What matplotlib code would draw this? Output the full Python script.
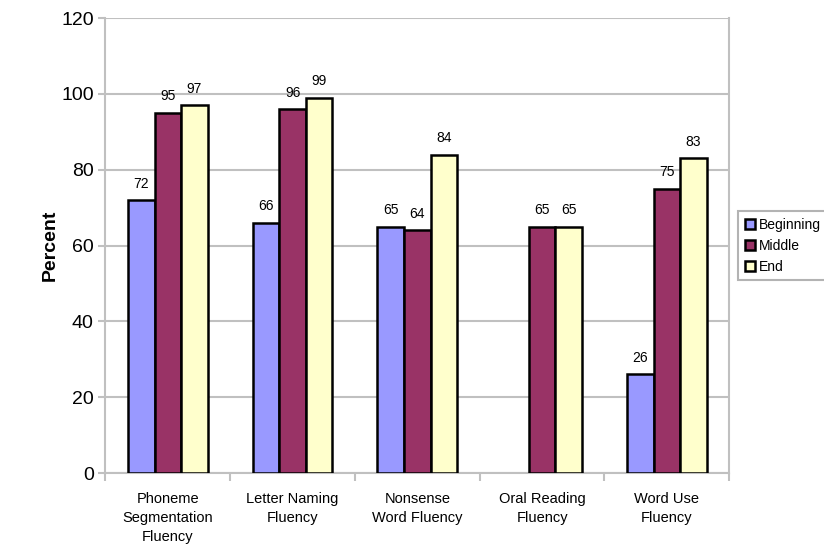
import matplotlib
matplotlib.use("Agg")
import matplotlib.pyplot as plt
import numpy as np

categories = ["Phoneme\nSegmentation\nFluency", "Letter Naming\nFluency", "Nonsense\nWord Fluency",
              "Oral Reading\nFluency", "Word Use\nFluency"]
beginning = [72, 66, 65, np.nan, 26]
middle = [95, 96, 64, 65, 75]
end = [97, 99, 84, 65, 83]
series = [("Beginning", beginning, "#9999FF"), ("Middle", middle, "#993366"), ("End", end, "#FFFFCC")]

plt.rcParams['font.family'] = ['Liberation Sans', 'DejaVu Sans']
fig = plt.figure(figsize=(8.24, 5.5), dpi=100)
ax = fig.add_axes([0.128, 0.14, 0.757, 0.827])

x = np.arange(len(categories))
w = 0.213
for i, (name, vals, col) in enumerate(series):
    pos = x + (i - 1) * w
    bars = ax.bar(pos, vals, w, color=col, edgecolor="black", linewidth=1.8, label=name, zorder=3)
    for p, v in zip(pos, vals):
        if not np.isnan(v):
            ax.text(p, v + 2.5, f"{int(v)}", ha="center", va="bottom", fontsize=10, zorder=4)

ax.set_xlim(-0.5, len(categories) - 0.5)
ax.set_ylim(0, 120)
ax.set_yticks(range(0, 121, 20))
ax.tick_params(axis="y", labelsize=14, length=5, color="#C0C0C0", width=1.5)
ax.set_xticks(x)
ax.set_xticklabels(categories, fontsize=10.5, linespacing=1.45)
ax.tick_params(axis="x", length=0, pad=14)
ax.set_xticks(np.arange(-0.5, len(categories), 1), minor=True)
ax.tick_params(axis="x", which="minor", length=6, color="#C0C0C0", width=1.5)
ax.grid(axis="y", color="#C0C0C0", linewidth=1.5, zorder=0)
for s in ["left", "bottom", "right", "top"]:
    ax.spines[s].set_color("#C0C0C0")
    ax.spines[s].set_linewidth(1.5)
ax.spines["top"].set_visible(False)
ax.set_ylabel("Percent", fontsize=14, fontweight="bold", labelpad=2)

leg = ax.legend(loc="center left", bbox_to_anchor=(1.003, 0.5), frameon=True, fontsize=10,
                fancybox=False, handlelength=0.7, handleheight=0.7, handletextpad=0.3,
                borderpad=0.5, labelspacing=0.5)
leg.get_frame().set_edgecolor("#A0A0A0")
leg.get_frame().set_linewidth(1.5)

fig.savefig("out.png", dpi=100)
